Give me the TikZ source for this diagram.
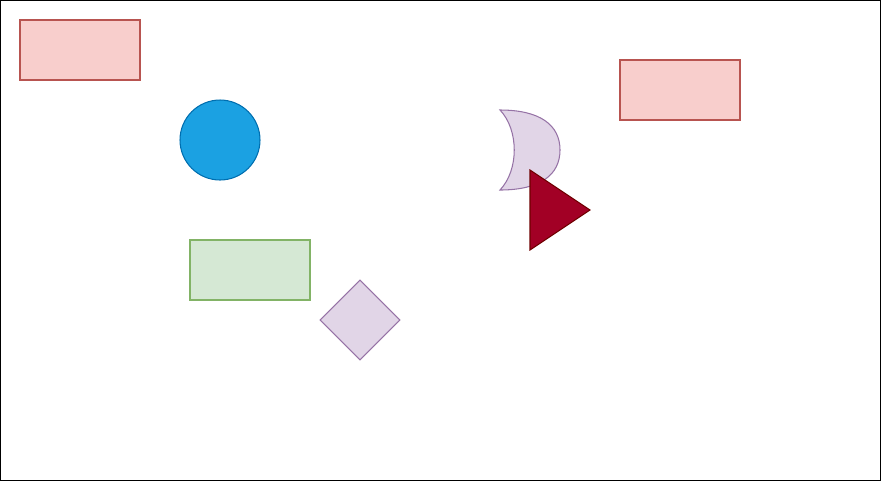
\documentclass[tikz,border=0pt]{standalone}
\usetikzlibrary{shapes.geometric}
\definecolor{redfill}{HTML}{F8CECC}
\definecolor{redline}{HTML}{B85450}
\definecolor{bluefill}{HTML}{1BA1E2}
\definecolor{blueline}{HTML}{006EAF}
\definecolor{greenfill}{HTML}{D5E8D4}
\definecolor{greenline}{HTML}{82B366}
\definecolor{purplefill}{HTML}{E1D5E7}
\definecolor{purpleline}{HTML}{9673A6}
\definecolor{winefill}{HTML}{A20025}
\definecolor{wineline}{HTML}{6F0000}
\begin{document}
\begin{tikzpicture}[x=0.02cm, y=-0.02cm, line width=0.6pt,
    redbox/.style={draw=redline, fill=redfill, minimum width=2.4cm, minimum height=1.2cm, inner sep=0},
    greenbox/.style={draw=greenline, fill=greenfill, minimum width=2.4cm, minimum height=1.2cm, inner sep=0},
    bluedisc/.style={circle, draw=blueline, fill=bluefill, minimum size=1.6cm, inner sep=0},
    purplediamond/.style={diamond, draw=purpleline, fill=purplefill, minimum width=1.6cm, minimum height=1.6cm, inner sep=0}]
        \useasboundingbox (0,0) rectangle (881,481);
        %frame
        \draw[line width=0.8pt] (0.7,0.7) rectangle (880.3,480.3);
        %boxes
        \node[redbox] (boxA) at (80,50) {};
        \node[redbox] (boxB) at (680,90) {};
        \node[greenbox] (boxC) at (250,270) {};
        %circle
        \node[bluedisc] (disc) at (220,140) {};
        %diamond
        \node[purplediamond] (rhomb) at (360,320) {};
        %moon
        \draw[draw=purpleline, fill=purplefill] (500,110) .. controls (540,110) and (560,125) .. (560,150)
                                  .. controls (560,175) and (540,190) .. (500,190)
                                  .. controls (519,170) and (519,130) .. (500,110) -- cycle;
        %triangle
        \draw[draw=wineline, fill=winefill] (530,170) -- (590,210) -- (530,250) -- cycle;
\end{tikzpicture}
\end{document}
